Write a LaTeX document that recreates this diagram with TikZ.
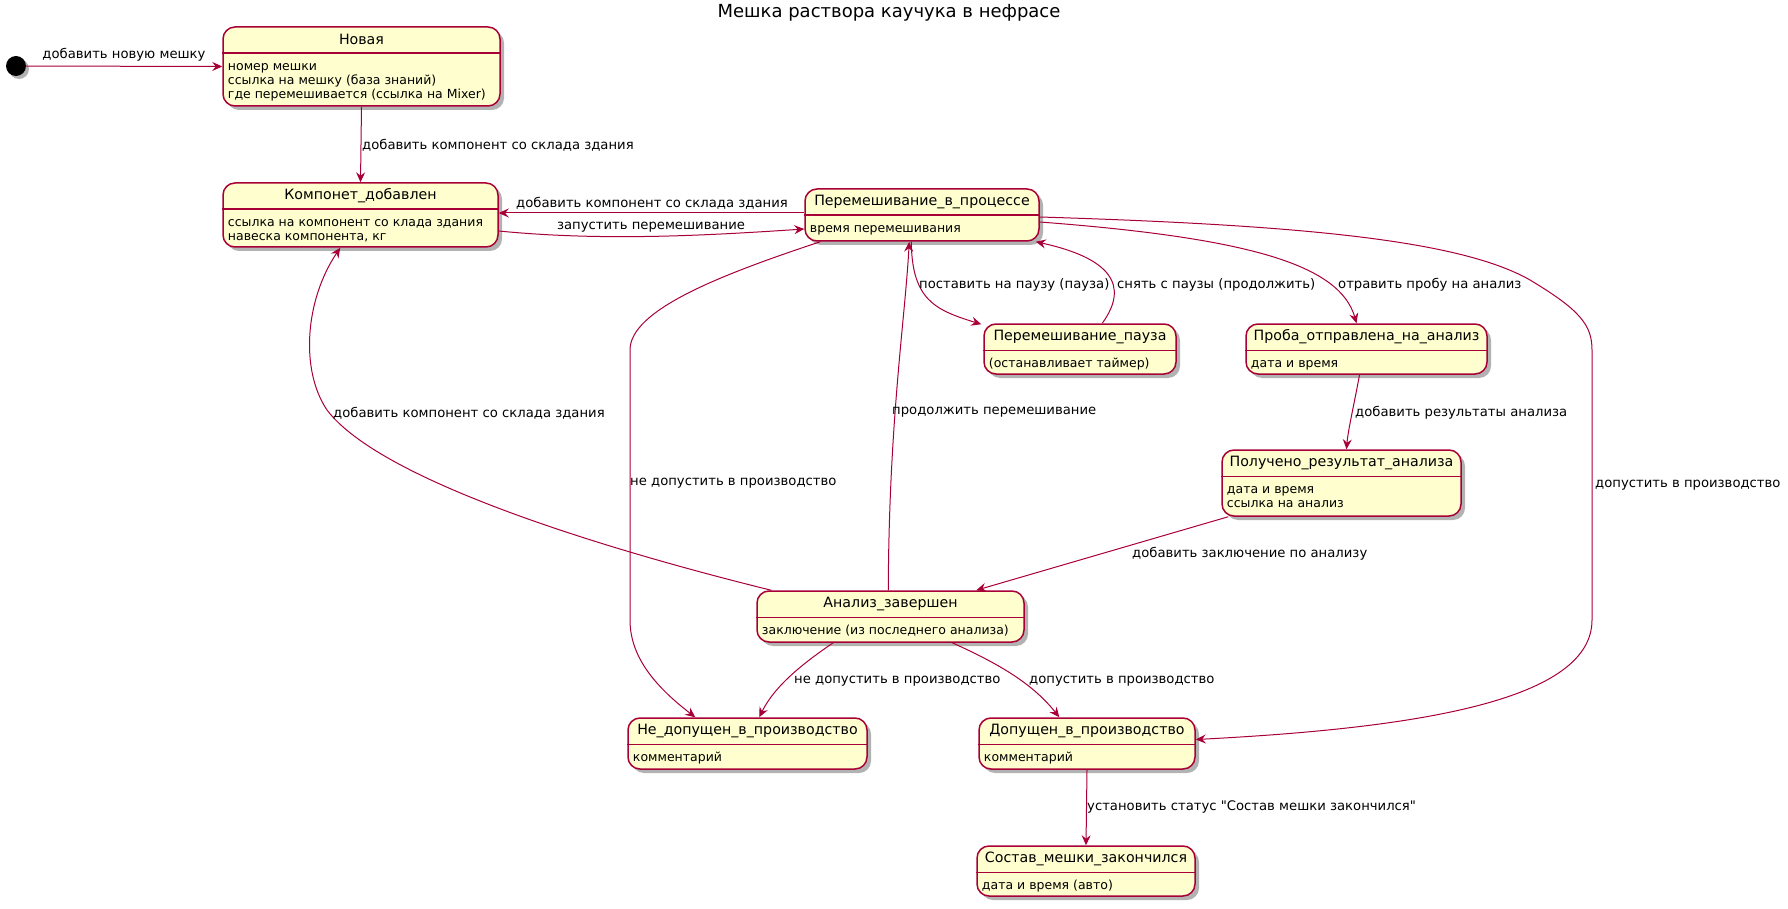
\documentclass[tikz,border=0pt]{standalone}
\usepackage{fontspec}
\setmainfont{DejaVu Sans}
\usetikzlibrary{arrows.meta,shadows}
\definecolor{umlred}{HTML}{A80036}
\definecolor{umlfill}{HTML}{FEFECE}
\newcommand{\statebox}[7]{%
  \node[sbox,minimum width={(#4)-(#2)},minimum height={(#5)-(#3)}] (#1)
       at ({((#2)+(#4))/2},{((#3)+(#5))/2}) {};
  \node[stitle] (#1-t) at ([yshift=-13.5pt]#1.north) {#6};
  \draw[sline] ([yshift=-27pt]#1.north west) -- ([yshift=-27pt]#1.north east);
  \node[sbody] (#1-b) at ([xshift=5.5pt,yshift=-34.5pt]#1.north west) {\rule{0pt}{10pt}#7};
}

\begin{document}
\begin{tikzpicture}[x=1pt,y=-1pt,
  sbox/.style={draw=umlred,fill=umlfill,line width=1.5pt,rounded corners=12pt,inner sep=0pt,
               drop shadow={shadow xshift=4pt,shadow yshift=-4pt,opacity=0.3,fill=black}},
  stitle/.style={font=\fontsize{14.2}{16}\selectfont,inner sep=0pt},
  sline/.style={draw=umlred,line width=1.5pt},
  sbody/.style={font=\fontsize{12.5}{14}\selectfont,align=left,anchor=north west,inner sep=0pt},
  tr/.style={draw=umlred,line width=1pt,-{Stealth[length=10pt,width=9pt,inset=3.5pt]}},
  lbl/.style={font=\fontsize{13.2}{15}\selectfont,inner sep=0pt,anchor=west}]

 \useasboundingbox (0,0) rectangle (1788,909);

 \node[font=\fontsize{18}{21}\selectfont] (title) at (889,13) {Мешка раствора каучука в нефрасе};

 \node[circle,fill=black,minimum size=20pt,inner sep=0pt,
       drop shadow={shadow xshift=3pt,shadow yshift=-3pt,opacity=0.3,fill=black}] (init) at (16,66) {};

 \statebox{nova}{223}{27}{500}{106}{Новая}
   {номер мешки\\ссылка на мешку (база знаний)\\где перемешивается (ссылка на Mixer)}
 \statebox{komp}{223}{183}{498}{247}{Компонет\_добавлен}
   {ссылка на компонент со клада здания\\навеска компонента, кг}
 \statebox{perem}{805}{189}{1039}{241}{Перемешивание\_в\_процессе}
   {время перемешивания}
 \statebox{pauza}{984}{324}{1176}{374}{Перемешивание\_пауза}
   {(останавливает таймер)}
 \statebox{proba}{1246}{324}{1487}{374}{Проба\_отправлена\_на\_анализ}
   {дата и время}
 \statebox{poluch}{1222}{450}{1461}{516}{Получено\_результат\_анализа}
   {дата и время\\ссылка на анализ}
 \statebox{analiz}{757}{591}{1024}{642}{Анализ\_завершен}
   {заключение (из последнего анализа)}
 \statebox{nedop}{628}{718}{867}{769}{Не\_допущен\_в\_производство}
   {комментарий}
 \statebox{dopusk}{979}{718}{1195}{769}{Допущен\_в\_производство}
   {комментарий}
 \statebox{sostav}{977}{846}{1195}{896}{Состав\_мешки\_закончился}
   {дата и время (авто)}

 \draw[tr] (init) -- (nova.west);
 \node[lbl,anchor=center] (l1) at (124,55) {добавить новую мешку};

 \draw[tr] (nova.south) -- (komp.north);
 \node[lbl] (l2) at (362,145) {добавить компонент со склада здания};

 \draw[tr] ([yshift=2pt]perem.west) -- ([yshift=2pt]komp.east);
 \node[lbl,anchor=center] (l3) at (652,203) {добавить компонент со склада здания};

 \draw[tr] ([yshift=-16pt]komp.east) .. controls (600,241) and (700,236) .. ([yshift=-14pt]perem.west);
 \node[lbl,anchor=center] (l4) at (651,227) {запустить перемешивание};

 \draw[tr] ([xshift=15pt]analiz.north west) .. controls (600,548) and (380,480) .. (327,410)
    .. controls (300,370) and (305,300) .. ([xshift=118pt]komp.south west);
 \node[lbl] (l5) at (333,413) {добавить компонент со склада здания};

 \draw[tr] ([xshift=16pt]perem.south west) .. controls (720,275) and (630,310) .. (630,350)
    -- (630,620) .. controls (630,660) and (660,690) .. ([xshift=68pt]nedop.north west);
 \node[lbl] (l6) at (630,483) {не допустить в производство};

 \draw[tr] ([xshift=132pt]analiz.north west) .. controls (889,420) and (905,320) .. ([xshift=105pt]perem.south west);
 \node[lbl] (l7) at (892,412) {продолжить перемешивание};

 \draw[tr] ([xshift=107pt]perem.south west) .. controls (912,300) and (935,310) .. ([xshift=-2pt,yshift=-1pt]pauza.north west);
 \node[lbl] (l8) at (919,285) {поставить на паузу (пауза)};

 \draw[tr] ([xshift=119pt]pauza.north west) .. controls (1130,285) and (1110,258) .. ([xshift=-4pt]perem.south east);
 \node[lbl] (l9) at (1117,285) {снять с паузы (продолжить)};

 \draw[tr] ([yshift=-7pt]perem.east) .. controls (1250,238) and (1340,265) .. ([xshift=-10pt]proba.north);
 \node[lbl] (l10) at (1338,285) {отравить пробу на анализ};

 \draw[tr] ([yshift=-2pt]perem.east) .. controls (1300,225) and (1460,240) .. (1530,280)
    .. controls (1580,310) and (1592,325) .. (1592,350) -- (1592,620)
    .. controls (1592,700) and (1420,728) .. ([yshift=4pt]dopusk.east);
 \node[lbl] (l11) at (1595,485) {допустить в производство};

 \draw[tr] ([xshift=-7pt]proba.south) .. controls (1355,400) and (1348,430) .. ([xshift=5pt]poluch.north);
 \node[lbl] (l12) at (1355,413) {добавить результаты анализа};

 \draw[tr] ([xshift=7pt]poluch.south west) -- ([xshift=220pt]analiz.north west);
 \node[lbl] (l13) at (1132,554) {добавить заключение по анализу};

 \draw[tr] ([xshift=77pt]analiz.south west) .. controls (805,662) and (775,685) .. ([xshift=132pt]nedop.north west);
 \node[lbl] (l14) at (794,681) {не допустить в производство};

 \draw[tr] ([xshift=196pt]analiz.south west) .. controls (990,660) and (1030,680) .. ([xshift=81pt]dopusk.north west);
 \node[lbl] (l15) at (1029,681) {допустить в производство};

 \draw[tr] (dopusk.south) -- (sostav.north);
 \node[lbl] (l16) at (1087,807) {установить статус \textquotedbl Состав мешки закончился\textquotedbl};

\end{tikzpicture}
\end{document}
